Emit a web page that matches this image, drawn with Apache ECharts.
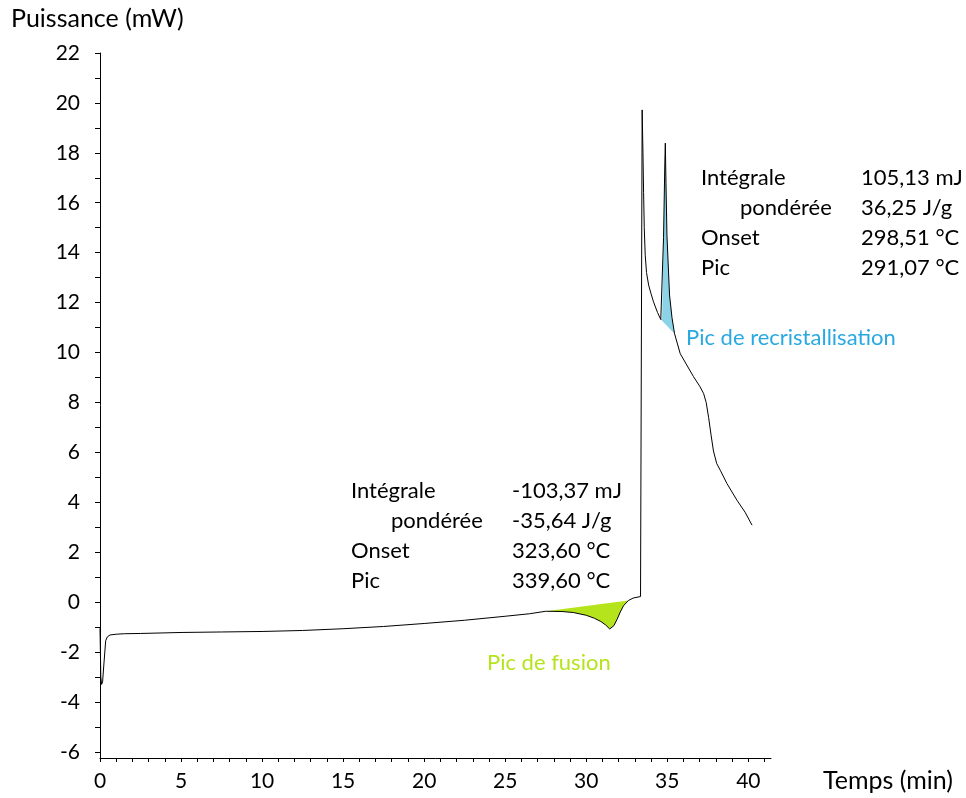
<!DOCTYPE html>
<html>
<head>
<meta charset="utf-8">
<script src="https://cdn.jsdelivr.net/npm/echarts@6/dist/echarts.min.js"></script>
<style>
  html, body { margin: 0; padding: 0; background: #fff; }
  #mainChart { width: 966px; height: 798px; }
</style>
</head>
<body>
<div id="mainChart"></div>
<script>
// temps (min) et puissance (mW)
var temps = [0, 0.05, 0.1, 0.16, 0.25, 0.35, 0.45, 0.62, 1, 1.5, 2.5, 5, 7.5, 10, 12.5, 15, 17.5, 20, 22.5, 25, 26.5,
    27.5, 28.5, 29.2, 30, 30.5, 30.9, 31.2, 31.45, 31.7, 31.9, 32.1, 32.3, 32.6, 32.9, 33.35,
    33.42, 33.45, 33.5, 33.54, 33.58, 33.64, 33.72, 33.85, 34.0, 34.15, 34.4, 34.6, 34.68, 34.77, 34.85, 34.88, 34.92, 34.98, 35.14, 35.29, 35.45,
    35.8, 36.2, 36.62, 37.0, 37.24, 37.4, 37.55, 37.7, 37.85, 38.05, 38.27, 38.68, 39.3, 39.8, 40.23];
var puissance = [-1.05, -3.0, -3.3, -3.2, -2.4, -1.55, -1.4, -1.32, -1.29, -1.27, -1.26, -1.22, -1.2, -1.18, -1.14, -1.07, -0.98, -0.86, -0.73, -0.57, -0.47,
    -0.37, -0.38, -0.42, -0.53, -0.65, -0.78, -0.92, -1.08, -0.95, -0.7, -0.4, -0.15, 0.06, 0.16, 0.22,
    0.25, 19.72, 18.0, 16.4, 15.0, 13.9, 13.2, 12.7, 12.35, 12.03, 11.6, 11.32, 11.35, 14.6, 17.6, 18.39, 16.8, 14.7, 12.3, 11.4, 10.75,
    9.95, 9.5, 9.03, 8.65, 8.36, 8.0, 7.4, 6.7, 6.05, 5.55, 5.28, 4.75, 4.08, 3.6, 3.08];

// lignes de base des pics (début, fin)
var baseFusion = [27.5, 32.6];
var baseRecrist = [34.6, 35.45];

var xLabels = [0, 5, 10, 15, 20, 25, 30, 35, 40];
var yLabels = [-6, -4, -2, 0, 2, 4, 6, 8, 10, 12, 14, 16, 18, 20, 22];

var courbe = temps.map(function (t, i) { return [t, puissance[i]]; });

function zonePic(base) {
    // points de la courbe entre les deux bornes, fermés par la ligne de base
    return courbe.filter(function (p) { return p[0] >= base[0] && p[0] <= base[1]; });
}

function intRange(a, b) {
    var r = [];
    for (var v = a; v <= b; v++) r.push(v);
    return r;
}

var police = 'Lato';

var myChart = echarts.init(document.getElementById('mainChart'));

function polygone(points, couleur) {
    return {
        type: 'custom',
        silent: true,
        z: 1,
        data: [0],
        renderItem: function (params, api) {
            return {
                type: 'polygon',
                shape: { points: points.map(function (p) { return api.coord(p); }) },
                style: { fill: couleur, stroke: null }
            };
        }
    };
}

function texte(x, y, s, couleur, taille) {
    return {
        type: 'text', x: x, y: y,
        style: {
            text: s, fill: couleur || '#000',
            font: (taille || 22) + 'px ' + police,
            verticalAlign: 'middle', align: 'left'
        }
    };
}

var option = {
    animation: false,
    grid: { left: 100, top: 53, right: 195, bottom: 40 },
    xAxis: {
        type: 'value',
        min: 0,
        max: 41.4,
        axisLine: { onZero: false, lineStyle: { color: '#000', width: 1 } },
        axisTick: { customValues: intRange(0, 41), length: 4, lineStyle: { color: '#000' } },
        axisLabel: { customValues: xLabels, fontFamily: police, fontSize: 21, color: '#000', margin: 13 },
        splitLine: { show: false }
    },
    yAxis: {
        type: 'value',
        min: -6.25,
        max: 22,
        axisLine: { show: true, onZero: false, lineStyle: { color: '#000', width: 1 } },
        axisTick: { show: true, customValues: intRange(-6, 22), length: 5, lineStyle: { color: '#000' } },
        axisLabel: { customValues: yLabels, fontFamily: police, fontSize: 21, color: '#000', margin: 20 },
        splitLine: { show: false }
    },
    series: [
        polygone(zonePic(baseFusion), '#b5e41c'),
        polygone(zonePic(baseRecrist), '#8dd3e8'),
        {
            type: 'line',
            data: courbe,
            symbol: 'none',
            z: 3,
            lineStyle: { color: '#000', width: 1 }
        }
    ],
    graphic: [
        texte(11, 19, 'Puissance (mW)', '#000', 25),
        texte(823, 781, 'Temps (min)', '#000', 25),
        texte(351, 491, 'Intégrale'),
        texte(391, 521, 'pondérée'),
        texte(351, 551, 'Onset'),
        texte(351, 581, 'Pic'),
        texte(512, 491, '-103,37 mJ'),
        texte(512, 521, '-35,64 J/g'),
        texte(512, 551, '323,60 °C'),
        texte(512, 581, '339,60 °C'),
        texte(487, 663, 'Pic de fusion', '#b5e41c'),
        texte(701, 178, 'Intégrale'),
        texte(740, 208, 'pondérée'),
        texte(701, 238, 'Onset'),
        texte(701, 268, 'Pic'),
        texte(861, 178, '105,13 mJ'),
        texte(861, 208, '36,25 J/g'),
        texte(861, 238, '298,51 °C'),
        texte(861, 268, '291,07 °C'),
        texte(686, 338, 'Pic de recristallisation', '#29a9e1')
    ]
};

myChart.setOption(option);
</script>
</body>
</html>
